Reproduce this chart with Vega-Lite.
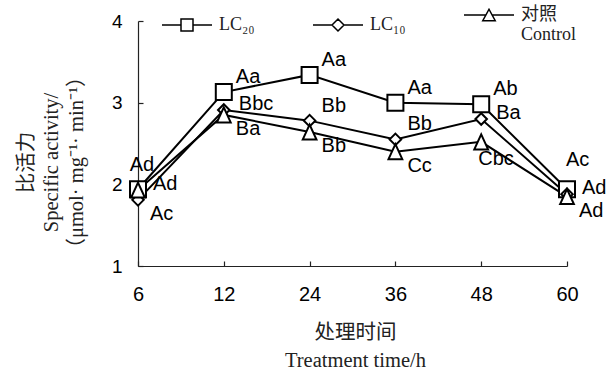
{
  "$schema": "https://vega.github.io/schema/vega-lite/v6.json",
  "width": 429,
  "height": 245,
  "autosize": "none",
  "padding": {"left": 138, "top": 21, "right": 43, "bottom": 109},
  "background": "white",
  "datasets": {
    "pts": [
      {"time": "6", "series": "LC20", "value": 1.94},
      {"time": "12", "series": "LC20", "value": 3.13},
      {"time": "24", "series": "LC20", "value": 3.34},
      {"time": "36", "series": "LC20", "value": 3.0},
      {"time": "48", "series": "LC20", "value": 2.98},
      {"time": "60", "series": "LC20", "value": 1.94},
      {"time": "6", "series": "LC10", "value": 1.81},
      {"time": "12", "series": "LC10", "value": 2.91},
      {"time": "24", "series": "LC10", "value": 2.78},
      {"time": "36", "series": "LC10", "value": 2.55},
      {"time": "48", "series": "LC10", "value": 2.8},
      {"time": "60", "series": "LC10", "value": 1.88},
      {"time": "6", "series": "对照", "value": 1.93},
      {"time": "12", "series": "对照", "value": 2.85},
      {"time": "24", "series": "对照", "value": 2.64},
      {"time": "36", "series": "对照", "value": 2.4},
      {"time": "48", "series": "对照", "value": 2.52},
      {"time": "60", "series": "对照", "value": 1.85}
    ],
    "labels": [
      {"time": "6", "series": "LC20", "value": 1.94, "label": "Ad", "place": "above"},
      {"time": "6", "series": "对照", "value": 1.93, "label": "Ad", "place": "r"},
      {"time": "6", "series": "LC10", "value": 1.81, "label": "Ac", "place": "lr"},
      {"time": "12", "series": "LC20", "value": 3.13, "label": "Aa", "place": "ur"},
      {"time": "12", "series": "LC10", "value": 2.91, "label": "Bbc", "place": "r"},
      {"time": "12", "series": "对照", "value": 2.85, "label": "Ba", "place": "lr"},
      {"time": "24", "series": "LC20", "value": 3.34, "label": "Aa", "place": "ur"},
      {"time": "24", "series": "LC10", "value": 2.78, "label": "Bb", "place": "ur"},
      {"time": "24", "series": "对照", "value": 2.64, "label": "Bb", "place": "lr"},
      {"time": "36", "series": "LC20", "value": 3.0, "label": "Aa", "place": "ur"},
      {"time": "36", "series": "LC10", "value": 2.55, "label": "Bb", "place": "ur"},
      {"time": "36", "series": "对照", "value": 2.4, "label": "Cc", "place": "lr"},
      {"time": "48", "series": "LC20", "value": 2.98, "label": "Ab", "place": "ur"},
      {"time": "48", "series": "LC10", "value": 2.8, "label": "Ba", "place": "r"},
      {"time": "48", "series": "对照", "value": 2.52, "label": "Cbc", "place": "below"},
      {"time": "60", "series": "LC20", "value": 1.94, "label": "Ac", "place": "ar"},
      {"time": "60", "series": "LC10", "value": 1.88, "label": "Ad", "place": "r"},
      {"time": "60", "series": "对照", "value": 1.85, "label": "Ad", "place": "lr"}
    ]
  },
  "encoding": {
    "x": {
      "field": "time",
      "type": "ordinal",
      "sort": ["6", "12", "24", "36", "48", "60"],
      "scale": {"type": "point", "padding": 0},
      "axis": {
        "labelAngle": 0,
        "labelFont": "Liberation Sans",
        "labelFontSize": 20,
        "labelColor": "black",
        "labelPadding": 23,
        "tickSize": -5,
        "tickColor": "#222",
        "domainColor": "#222",
        "title": ["处理时间", "Treatment  time/h"],
        "titleFont": "Liberation Serif, Noto Sans CJK SC",
        "titleFontSize": 20.5,
        "titleFontWeight": "normal",
        "titleColor": "#222",
        "titleLineHeight": 28,
        "titleBaseline": "top",
        "titleY": 56,
        "titleX": 217,
        "titleAlign": "center"
      }
    },
    "y": {
      "field": "value",
      "type": "quantitative",
      "scale": {"domain": [1, 4]},
      "axis": {
        "values": [1, 2, 3, 4],
        "grid": false,
        "labelFont": "Liberation Sans",
        "labelFontSize": 19,
        "labelColor": "black",
        "labelPadding": 21,
        "tickSize": -5,
        "tickColor": "#222",
        "domainColor": "#222",
        "title": ["比活力", "Specific activity/", "（μmol· mg⁻¹· min⁻¹）"],
        "titleFont": "Liberation Serif, Noto Sans CJK SC",
        "titleFontSize": 20.5,
        "titleFontWeight": "normal",
        "titleColor": "#222",
        "titleLineHeight": 25,
        "titleAngle": -90,
        "titleBaseline": "top",
        "titleAlign": "center",
        "titleX": -122,
        "titleY": 141
      }
    }
  },
  "layer": [
    {
      "data": {"name": "pts"},
      "mark": {"type": "line", "color": "black", "strokeWidth": 2},
      "encoding": {"detail": {"field": "series"}}
    },
    {
      "data": {"name": "pts"},
      "mark": {"type": "point", "filled": true, "fill": "white", "stroke": "black", "strokeWidth": 2, "opacity": 0},
      "encoding": {
        "shape": {
          "field": "series",
          "type": "nominal",
          "scale": {
            "domain": ["LC20", "LC10", "对照"],
            "range": [
              "M-1,0L-0.24,0L-0.24,-0.24L0.24,-0.24L0.24,0L1,0L0.24,0L0.24,0.24L-0.24,0.24L-0.24,0Z",
              "M-1,0L-0.24,0L0,-0.24L0.24,0L1,0L0.24,0L0,0.24L-0.24,0Z",
              "M-1,0L-0.125,0L0,-0.23L0.125,0L1,0L0.125,0L0.25,0.23L-0.25,0.23L-0.125,0Z"
            ]
          },
          "legend": {
            "orient": "none",
            "legendX": 23,
            "legendY": -32,
            "direction": "horizontal",
            "columns": 3,
            "title": null,
            "padding": 0,
            "symbolSize": 2500,
            "columnPadding": 55,
            "labelFont": "Liberation Serif, Noto Sans CJK SC",
            "labelFontSize": 18,
            "labelColor": "#222",
            "labelOffset": 6,
            "labelLimit": 0,
            "labelExpr": "datum.value == 'LC20' ? 'LC₂₀' : datum.value == 'LC10' ? 'LC₁₀' : ['对照', 'Control']",
            "encode": {
              "symbols": {
                "update": {
                  "fill": {"value": "white"},
                  "stroke": {"value": "black"},
                  "strokeWidth": {"value": 2},
                  "opacity": {"value": 1}
                }
              },
              "labels": {
                "update": {
                  "baseline": {"signal": "datum.value == '对照' ? 'top' : 'middle'"},
                  "dy": {"signal": "datum.value == '对照' ? -7 : 0"},
                  "lineHeight": {"value": 24}
                }
              }
            }
          }
        }
      }
    },
    {
      "data": {"name": "pts"},
      "mark": {"type": "point", "filled": true, "fill": "white", "stroke": "black", "strokeWidth": 2, "opacity": 1, "size": 256},
      "encoding": {
        "shape": {
          "field": "series",
          "type": "nominal",
          "scale": {
            "domain": ["LC20", "LC10", "对照"],
            "range": [
              "M-1,-1L1,-1L1,1L-1,1Z",
              "M-0.72,0L0,-0.72L0.72,0L0,0.72Z",
              "M-0.86,0.94L0,-0.94L0.86,0.94Z"
            ]
          },
          "legend": null
        }
      }
    },
    {
      "data": {"name": "labels"},
      "transform": [{"filter": "datum.place == 'ur'"}],
      "mark": {"type": "text", "align": "left", "baseline": "middle", "dx": 12, "dy": -15, "font": "Liberation Sans", "fontSize": 20, "color": "black"},
      "encoding": {"text": {"field": "label"}}
    },
    {
      "data": {"name": "labels"},
      "transform": [{"filter": "datum.place == 'r'"}],
      "mark": {"type": "text", "align": "left", "baseline": "middle", "dx": 15, "dy": -6, "font": "Liberation Sans", "fontSize": 20, "color": "black"},
      "encoding": {"text": {"field": "label"}}
    },
    {
      "data": {"name": "labels"},
      "transform": [{"filter": "datum.place == 'lr'"}],
      "mark": {"type": "text", "align": "left", "baseline": "middle", "dx": 12, "dy": 14, "font": "Liberation Sans", "fontSize": 20, "color": "black"},
      "encoding": {"text": {"field": "label"}}
    },
    {
      "data": {"name": "labels"},
      "transform": [{"filter": "datum.place == 'above'"}],
      "mark": {"type": "text", "align": "center", "baseline": "middle", "dx": 4, "dy": -24, "font": "Liberation Sans", "fontSize": 20, "color": "black"},
      "encoding": {"text": {"field": "label"}}
    },
    {
      "data": {"name": "labels"},
      "transform": [{"filter": "datum.place == 'ar'"}],
      "mark": {"type": "text", "align": "left", "baseline": "middle", "dx": -1, "dy": -29, "font": "Liberation Sans", "fontSize": 20, "color": "black"},
      "encoding": {"text": {"field": "label"}}
    },
    {
      "data": {"name": "labels"},
      "transform": [{"filter": "datum.place == 'below'"}],
      "mark": {"type": "text", "align": "left", "baseline": "middle", "dx": -3, "dy": 17, "font": "Liberation Sans", "fontSize": 20, "color": "black"},
      "encoding": {"text": {"field": "label"}}
    }
  ],
  "resolve": {"scale": {"shape": "independent"}, "legend": {"shape": "independent"}},
  "config": {
    "view": {"stroke": null},
    "axis": {"domainWidth": 1.2, "tickWidth": 1.2}
  }
}
